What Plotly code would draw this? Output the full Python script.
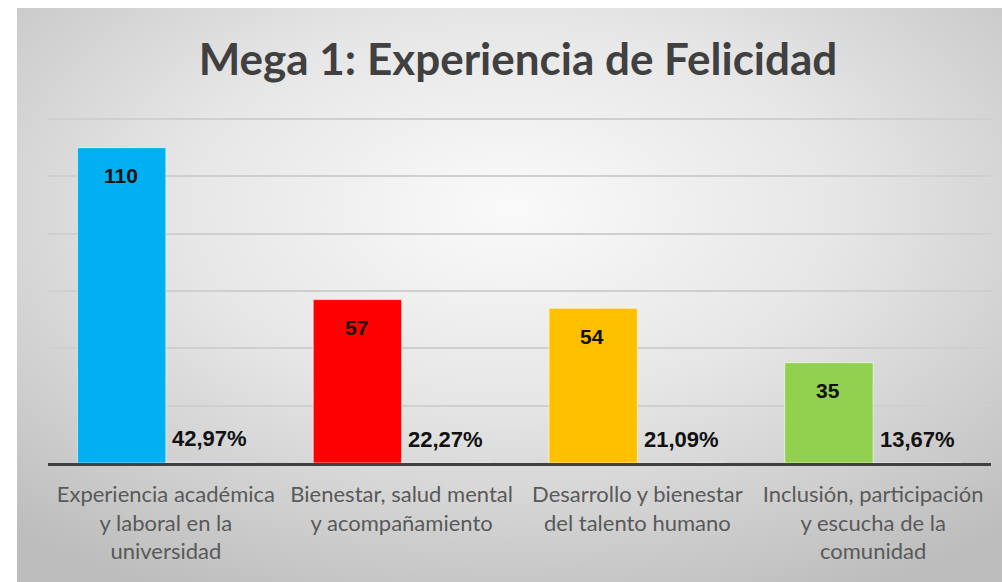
import base64
import plotly.graph_objects as go

# ---- data ----
categories = [
    "Experiencia académica y laboral en la universidad",
    "Bienestar, salud mental y acompañamiento",
    "Desarrollo y bienestar del talento humano",
    "Inclusión, participación y escucha de la comunidad",
]
tick_labels = [
    "Experiencia académica<br>y laboral en la<br>universidad",
    "Bienestar, salud mental<br>y acompañamiento",
    "Desarrollo y bienestar<br>del talento humano",
    "Inclusión, participación<br>y escucha de la<br>comunidad",
]
counts = [110, 57, 54, 35]
percents = [42.97, 22.27, 21.09, 13.67]
percent_labels = ["42,97%", "22,27%", "21,09%", "13,67%"]
bar_colors = ["#00B0F0", "#FF0000", "#FFC000", "#92D050"]
title_text = "Mega 1: Experiencia de Felicidad"

W, H = 1002, 582
ML, MR, MT, MB = 48, 11, 117, 119
plot_w = W - ML - MR
plot_h = H - MT - MB

fig = go.Figure()
fig.add_trace(go.Bar(
    x=categories, y=counts, name="Cantidad",
    marker=dict(color=bar_colors, line=dict(color="rgba(255,255,255,0.6)", width=1)),
    hoverinfo="skip",
))
fig.add_trace(go.Bar(
    x=categories, y=[p / 100 for p in percents], name="Porcentaje",
    marker=dict(color="rgba(0,0,0,0)"),
    hoverinfo="skip",
))

annos = []
for c, v in zip(categories, counts):
    annos.append(dict(x=c, y=v, xref="x", yref="y", text=str(v), showarrow=False,
                      xshift=-45, yshift=-28, yanchor="middle",
                      font=dict(family="Liberation Sans", size=21, color="#111111", weight="bold")))
for c, p, t in zip(categories, percents, percent_labels):
    annos.append(dict(x=c, y=p / 100, xref="x", yref="y", text=t, showarrow=False,
                      xshift=44, yshift=23, yanchor="middle",
                      font=dict(family="Liberation Sans", size=22, color="#111111", weight="bold")))

# radial gradient background
svg = f'''<svg xmlns="http://www.w3.org/2000/svg" width="985" height="574" viewBox="0 0 985 574" preserveAspectRatio="none">
<defs><radialGradient id="g" cx="50%" cy="35%" r="75%">
<stop offset="0" stop-color="#fafafa"/><stop offset="0.45" stop-color="#e6e6e6"/><stop offset="1" stop-color="#bdbdbd"/>
</radialGradient></defs><rect width="985" height="574" fill="url(#g)"/></svg>'''
src = "data:image/svg+xml;base64," + base64.b64encode(svg.encode()).decode()
img_x0, img_y0 = 17, 8
fig.add_layout_image(dict(
    source=src, xref="paper", yref="paper",
    x=(img_x0 - ML) / plot_w, y=1 + (MT - img_y0) / plot_h,
    sizex=(W - img_x0) / plot_w, sizey=(H - img_y0) / plot_h,
    xanchor="left", yanchor="top", sizing="stretch", layer="below",
))

fig.update_layout(
    width=W, height=H,
    margin=dict(l=ML, r=MR, t=MT, b=MB),
    paper_bgcolor="white", plot_bgcolor="rgba(0,0,0,0)",
    barmode="group", bargap=0.25, bargroupgap=0,
    showlegend=False,
    title=dict(text=title_text, x=518 / W, xanchor="center", y=1 - 60 / H, yanchor="middle",
               font=dict(family="Lato", size=44, color="#404040", weight="bold")),
    annotations=annos,
)
fig.update_xaxes(
    tickvals=categories, ticktext=tick_labels,
    tickfont=dict(family="Lato", size=22, color="#595959"),
    showline=True, linecolor="#404040", linewidth=2.5,
    ticks="", ticklabelstandoff=10, showgrid=False,
)
fig.update_yaxes(
    range=[0, 120.7], dtick=20, showticklabels=False,
    showgrid=True, gridcolor="#cfcfcf", gridwidth=1.5, zeroline=False,
)

fig.write_html("out.html", config={"displayModeBar": False},
               post_script="document.body.style.margin='0';document.body.style.overflow='hidden';")
